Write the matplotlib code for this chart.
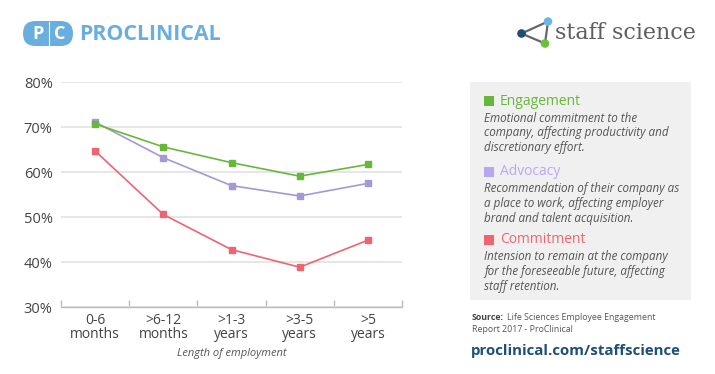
import matplotlib
matplotlib.use("Agg")
import matplotlib.pyplot as plt
from matplotlib.patches import FancyBboxPatch, Rectangle, Circle

plt.rcParams['font.family'] = ['Open Sans', 'DejaVu Sans']

# data
categories = ["0-6\nmonths", ">6-12\nmonths", ">1-3\nyears", ">3-5\nyears", ">5\nyears"]
engagement = [70.7, 65.6, 62.1, 59.1, 61.7]
advocacy = [71.1, 63.2, 57.0, 54.7, 57.5]
commitment = [64.7, 50.6, 42.8, 38.9, 44.9]
yticks = [30, 40, 50, 60, 70, 80]

legend_items = [
    ("Engagement", "Emotional commitment to the\ncompany, affecting productivity and\ndiscretionary effort."),
    ("Advocacy", "Recommendation of their company as\na place to work, affecting employer\nbrand and talent acquisition."),
    ("Commitment", "Intension to remain at the company\nfor the foreseeable future, affecting\nstaff retention."),
]

GREEN = '#67b83a'
PURPLE = '#a698d6'
PURPLE_SQ = '#b9a7f2'
RED = '#ee6571'
TXT = '#444444'
BLUE = '#6aaee0'

W, H = 715, 374
fig = plt.figure(figsize=(W / 100, H / 100), dpi=100)
fig.patch.set_facecolor('white')

# overlay in pixel coords for logos / legend panel
ov = fig.add_axes([0, 0, 1, 1], zorder=0)
ov.set_xlim(0, W)
ov.set_ylim(H, 0)
ov.axis('off')

# main axes
ax = fig.add_axes([61 / W, 1 - 307.3 / H, (402 - 61) / W, (307.3 - 82) / H], zorder=1)
ax.patch.set_alpha(0)
x = list(range(len(categories)))
for vals, col in [(commitment, RED), (advocacy, PURPLE), (engagement, GREEN)]:
    ax.plot(x, vals, color=col, lw=1.2, marker='s', ms=4.5, mec=col, mfc=col, zorder=3)

ax.set_xlim(-0.5, len(categories) - 0.5)
ax.set_ylim(30, 80)
ax.set_yticks(yticks)
ax.set_yticklabels([f"{v}%" for v in yticks], fontsize=10.5, color=TXT)
ax.set_xticks(x)
ax.set_xticklabels(categories, fontsize=10, color=TXT, linespacing=0.95)
ax.set_xticks([i - 0.5 for i in range(len(categories) + 1)], minor=True)
ax.tick_params(axis='x', which='major', length=0, pad=4)
ax.tick_params(axis='x', which='minor', length=5, direction='in', color='#bbbbbb', width=1)
ax.tick_params(axis='y', length=0, pad=6)
for s in ['left', 'right', 'top']:
    ax.spines[s].set_visible(False)
ax.spines['bottom'].set_color('#bbbbbb')
ax.spines['bottom'].set_linewidth(1)
ax.grid(axis='y', color='#e6e6e6', lw=1.4)
ax.set_axisbelow(True)
ax.set_xlabel("Length of employment", fontsize=8, style='italic', color='#555555', labelpad=4)

# legend panel
ov.add_patch(Rectangle((470, 82), 221, 218, facecolor='#f0f0f0', edgecolor='none'))
heads_y = [101, 171.5, 239.5]
sq_cols = [GREEN, PURPLE_SQ, RED]
for (name, desc), hy, col in zip(legend_items, heads_y, sq_cols):
    ov.add_patch(Rectangle((484, hy - 5), 10, 10, facecolor=col, edgecolor='none'))
    ov.text(500, hy, name, fontsize=10, color=col, va='center', ha='left')
    ov.text(484, hy + 10.5, desc, fontsize=8.4, style='italic', color='#555555',
            va='top', ha='left', linespacing=1.18)

# source + link
src = ov.text(472, 318, "Source:", fontsize=6.3, weight='bold', color='#444444', va='center')
fig.canvas.draw()
bb = src.get_window_extent(fig.canvas.get_renderer())
ov.text(bb.x1 + 3, 318, "Life Sciences Employee Engagement", fontsize=6.3, color='#555555', va='center')
ov.text(472, 329.5, "Report 2017 - ProClinical", fontsize=6.3, color='#555555', va='center')
ov.text(471, 351, "proclinical.com/staffscience", fontsize=10.8, weight='bold',
        color='#1e4f7a', va='center')

# proclinical logo
ov.add_patch(FancyBboxPatch((23, 21), 50, 25, boxstyle="round,pad=0,rounding_size=12.5",
                            facecolor=BLUE, edgecolor='none'))
ov.plot([48.5, 48.5], [21.5, 45.5], color='white', lw=0.8)
ov.text(37.5, 34, "P", fontsize=13, weight='bold', color='white', ha='center', va='center')
ov.text(60, 34, "C", fontsize=13, weight='bold', color='white', ha='center', va='center')
ov.text(79, 34, "PROCLINICAL", fontsize=15.4, weight='bold', color=BLUE, ha='left', va='center')

# staff science logo
n1, n2, n3 = (521.5, 33.5), (548, 21.5), (545, 43.5)
for a, b in [(n1, n2), (n1, n3), (n2, n3)]:
    ov.plot([a[0], b[0]], [a[1], b[1]], color='#666666', lw=1.6)
for (cx, cy), col in [(n1, '#1f4e70'), (n2, '#6ab6e8'), (n3, '#6cbf3c')]:
    ov.add_patch(Circle((cx, cy), 4.3, facecolor=col, edgecolor='none', zorder=3))
ov.text(555, 33, "staff science", fontsize=16, family='DejaVu Serif', color='#5e5e5e',
        ha='left', va='center')

fig.savefig('out.png', dpi=100)
